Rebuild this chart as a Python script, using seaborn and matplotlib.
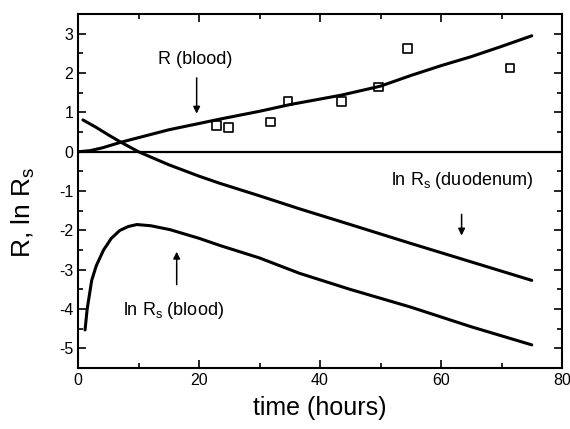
import numpy as np
import pandas as pd
import matplotlib
matplotlib.use("Agg")
import matplotlib.pyplot as plt
from matplotlib.ticker import MultipleLocator
import seaborn as sns

# measured R (blood)
t_meas = [22.9, 24.8, 31.8, 34.7, 43.5, 49.6, 54.5, 71.4]
r_meas = [0.66, 0.62, 0.76, 1.29, 1.27, 1.65, 2.62, 2.13]

# fitted R (blood)
t_r = [0, 2, 4, 7, 10, 15, 20, 23.4, 30, 35, 43.5, 50, 55, 60, 65, 70, 75]
r_fit = [0, 0.03, 0.1, 0.24, 0.36, 0.56, 0.72, 0.83, 1.03, 1.2, 1.44, 1.67, 1.94, 2.19, 2.42, 2.68, 2.95]

# ln Rs (duodenum)
t_duo = [0.8, 3, 5, 7, 10, 15, 20, 23.4, 30, 36.6, 45, 55, 65, 75]
ln_duo = [0.81, 0.62, 0.43, 0.25, 0.0, -0.33, -0.62, -0.8, -1.12, -1.45, -1.85, -2.33, -2.8, -3.27]

# ln Rs (blood)
t_bl = [1.15, 1.5, 2.25, 3, 4.2, 5.5, 6.9, 8.3, 9.7, 12, 15.2, 20, 23.4, 30, 36.6, 45, 55, 65, 75]
ln_bl = [-4.53, -4.0, -3.27, -2.9, -2.5, -2.2, -2.0, -1.9, -1.85, -1.88, -1.98, -2.2, -2.38, -2.7, -3.09, -3.5, -3.95, -4.45, -4.91]

sns.set_style("ticks", {'text.color': 'black', 'axes.labelcolor': 'black',
                        'xtick.color': 'black', 'ytick.color': 'black',
                        'axes.edgecolor': 'black'})
plt.rcParams['font.family'] = ['Liberation Sans', 'DejaVu Sans']
plt.rcParams['axes.unicode_minus'] = False

fig = plt.figure(figsize=(5.7, 4.29), dpi=100)
ax = fig.add_axes([0.137, 0.142, 0.849, 0.825])

sns.lineplot(x=t_r, y=r_fit, color='black', lw=2.2, ax=ax)
sns.lineplot(x=t_duo, y=ln_duo, color='black', lw=2.2, ax=ax)
sns.lineplot(x=t_bl, y=ln_bl, color='black', lw=2.2, ax=ax)
sns.scatterplot(x=t_meas, y=r_meas, marker='s', s=40, facecolor='none',
                edgecolor='black', linewidth=1.2, ax=ax, zorder=5)
ax.axhline(0, color='black', lw=1.6)

ax.set_xlim(0, 80)
ax.set_ylim(-5.5, 3.5)
ax.xaxis.set_major_locator(MultipleLocator(20))
ax.xaxis.set_minor_locator(MultipleLocator(10))
ax.yaxis.set_major_locator(MultipleLocator(1))
ax.yaxis.set_minor_locator(MultipleLocator(0.5))
ax.tick_params(which='both', direction='in', top=True, right=True,
               labeltop=False, labelright=False, width=1.2, colors='black')
ax.tick_params(which='major', length=6, labelsize=11.5)
ax.tick_params(which='minor', length=3.5)
for sp in ax.spines.values():
    sp.set_linewidth(1.5)
    sp.set_color('black')

ax.set_xlabel('time (hours)', fontsize=18, labelpad=6, color='black')
ax.set_ylabel('R, ln R$_\\mathregular{s}$', fontsize=19, color='black')
ax.yaxis.set_label_coords(-0.085, 0.44)

# annotations
ax.text(19.4, 2.35, 'R (blood)', fontsize=13, ha='center', va='center', color='black')
ax.annotate('', xy=(19.6, 0.9), xytext=(19.6, 1.95),
            arrowprops=dict(arrowstyle='-|>', color='black', lw=1.1, mutation_scale=10))
ax.text(63.5, -0.73, 'ln R$_\\mathregular{s}$ (duodenum)', fontsize=13, ha='center', va='center', color='black')
ax.annotate('', xy=(63.4, -2.2), xytext=(63.4, -1.52),
            arrowprops=dict(arrowstyle='-|>', color='black', lw=1.1, mutation_scale=10))
ax.text(15.7, -4.03, 'ln R$_\\mathregular{s}$ (blood)', fontsize=13, ha='center', va='center', color='black')
ax.annotate('', xy=(16.3, -2.47), xytext=(16.3, -3.45),
            arrowprops=dict(arrowstyle='-|>', color='black', lw=1.1, mutation_scale=10))

fig.savefig('out.png', dpi=100)
